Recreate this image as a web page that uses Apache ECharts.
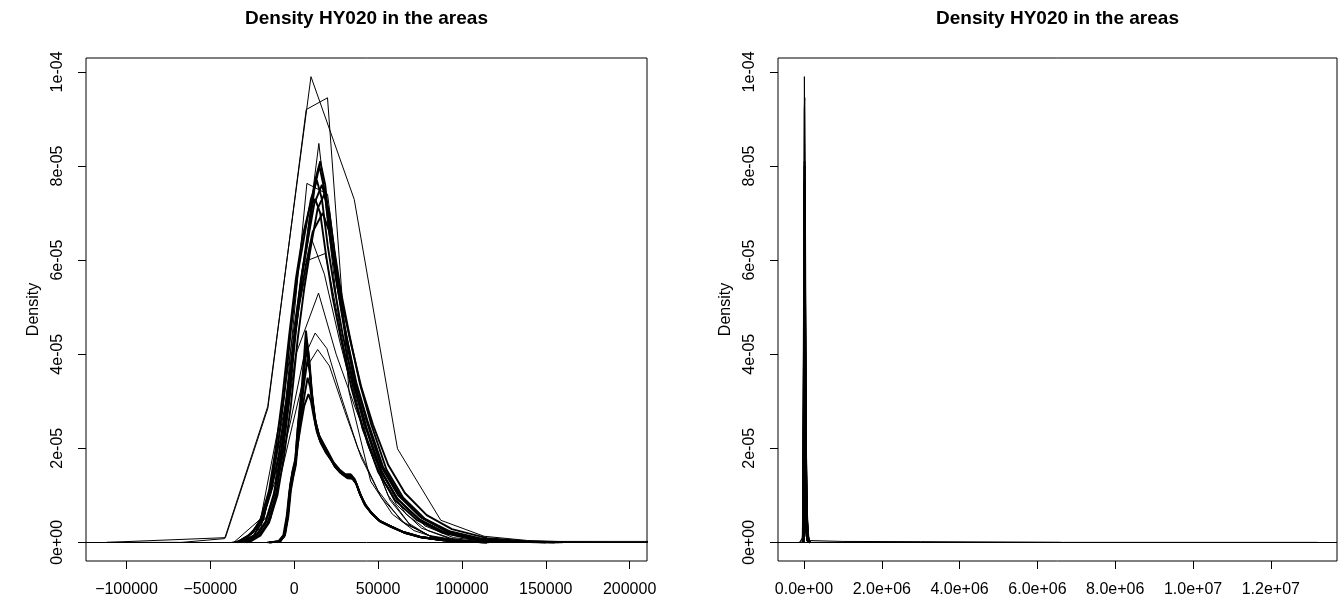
<!DOCTYPE html>
<html><head><meta charset="utf-8">
<script src="https://cdn.jsdelivr.net/npm/echarts@6/dist/echarts.min.js"></script>
<style>html,body{margin:0;padding:0;background:#fff}#chart{width:1338px;height:603px}</style>
</head><body><div id="chart"></div>
<script>
// ---------- texts / ticks ----------
const titleText = 'Density HY020 in the areas';
const yAxisName = 'Density';
const yTicks = [0, 2e-5, 4e-5, 6e-5, 8e-5, 1e-4];
const yTickLabels = ['0e+00', '2e-05', '4e-05', '6e-05', '8e-05', '1e-04'];
const xTicksLeft = [-100000, -50000, 0, 50000, 100000, 150000, 200000];
const xTickLabelsLeft = ['\u2212100000', '\u221250000', '0', '50000', '100000', '150000', '200000'];
const xTicksRight = [0, 2e6, 4e6, 6e6, 8e6, 1e7, 1.2e7];
const xTickLabelsRight = ['0.0e+00', '2.0e+06', '4.0e+06', '6.0e+06', '8.0e+06', '1.0e+07', '1.2e+07'];
const xRangeLeft = [-124150, 210375];
const xRangeRight = [-668000, 13700000];
const yRange = [-3.96e-6, 1.0296e-4];

// ---------- density curves [x, density] ----------
// main wide bundle
const curveA0 = [[-30000,0],[-22000,0.18e-5],[-17000,0.45e-5],[-12000,1.05e-5],[-8000,1.9e-5],[-4000,3.0e-5],[0,4.4e-5],[4000,5.6e-5],[8000,6.4e-5],[12000,7.5e-5],[15000,8.0e-5],[18000,7.5e-5],[21000,6.55e-5],[25000,5.6e-5],[30000,4.6e-5],[36000,3.5e-5],[43000,2.6e-5],[52000,1.6e-5],[62000,1.0e-5],[75000,0.55e-5],[90000,0.25e-5],[110000,0.08e-5],[135000,0.01e-5],[155000,0]];
const curveA1 = [[-32000,0],[-24000,0.15e-5],[-19000,0.45e-5],[-14000,1.1e-5],[-10000,2.0e-5],[-6000,3.1e-5],[-2000,4.5e-5],[2000,5.7e-5],[6000,6.5e-5],[10000,7.3e-5],[13500,7.7e-5],[16500,7.3e-5],[20000,6.3e-5],[24000,5.4e-5],[29000,4.4e-5],[35000,3.4e-5],[42000,2.5e-5],[51000,1.55e-5],[61000,0.95e-5],[74000,0.5e-5],[89000,0.22e-5],[108000,0.07e-5],[130000,0.01e-5],[150000,0]];
const curveA2 = [[-27000,0],[-20000,0.15e-5],[-15000,0.42e-5],[-10000,1.0e-5],[-6000,1.85e-5],[-2000,2.9e-5],[2000,4.3e-5],[6000,5.4e-5],[10000,6.3e-5],[14000,7.1e-5],[18000,7.4e-5],[21000,7.0e-5],[24000,6.2e-5],[28000,5.3e-5],[33000,4.4e-5],[39000,3.4e-5],[46000,2.5e-5],[55000,1.55e-5],[65000,0.95e-5],[78000,0.5e-5],[93000,0.23e-5],[113000,0.07e-5],[138000,0.01e-5],[158000,0]];
const curveA3 = [[-28000,0],[-21000,0.15e-5],[-16000,0.4e-5],[-11000,1.0e-5],[-7000,1.85e-5],[-3000,3.0e-5],[1000,4.5e-5],[5000,5.8e-5],[9000,6.8e-5],[12500,7.7e-5],[15500,8.1e-5],[18500,7.6e-5],[21500,6.6e-5],[25000,5.6e-5],[30000,4.5e-5],[36000,3.4e-5],[43000,2.45e-5],[52000,1.5e-5],[62000,0.9e-5],[75000,0.48e-5],[90000,0.2e-5],[110000,0.06e-5],[135000,0.01e-5],[155000,0]];
const curveA4 = [[-34000,0],[-25000,0.2e-5],[-19000,0.5e-5],[-14000,1.05e-5],[-9000,1.9e-5],[-5000,2.9e-5],[-1000,4.1e-5],[3000,5.1e-5],[7000,5.9e-5],[11000,6.6e-5],[17000,7.0e-5],[21000,6.6e-5],[25000,5.8e-5],[29000,5.0e-5],[34000,4.2e-5],[40000,3.3e-5],[47000,2.5e-5],[56000,1.65e-5],[66000,1.05e-5],[79000,0.58e-5],[94000,0.28e-5],[115000,0.09e-5],[140000,0.02e-5],[160000,0]];
const curveA5 = [[-33000,0],[-25000,0.2e-5],[-20000,0.5e-5],[-15000,1.1e-5],[-11000,2.0e-5],[-7000,3.1e-5],[-3000,4.4e-5],[1000,5.6e-5],[5000,6.5e-5],[9000,7.1e-5],[12500,7.3e-5],[15500,7.0e-5],[19000,6.1e-5],[23000,5.2e-5],[28000,4.3e-5],[34000,3.3e-5],[41000,2.4e-5],[50000,1.5e-5],[60000,0.9e-5],[73000,0.48e-5],[88000,0.21e-5],[107000,0.06e-5],[130000,0.01e-5],[150000,0]];
const curveA6 = [[-29000,0],[-22000,0.16e-5],[-17000,0.42e-5],[-12000,1.0e-5],[-8000,1.8e-5],[-4000,2.9e-5],[0,4.3e-5],[4000,5.5e-5],[8000,6.4e-5],[12000,7.2e-5],[16500,7.6e-5],[19500,7.2e-5],[22500,6.3e-5],[26000,5.4e-5],[31000,4.4e-5],[37000,3.4e-5],[44000,2.55e-5],[53000,1.6e-5],[63000,1.0e-5],[76000,0.52e-5],[91000,0.24e-5],[111000,0.07e-5],[136000,0.01e-5],[156000,0]];
// narrow bundle
const curveB0 = [[-15000,0],[-9000,0.02e-5],[-6000,0.15e-5],[-4000,0.6e-5],[-2500,1.2e-5],[-1000,1.5e-5],[500,1.7e-5],[2000,2.4e-5],[4000,3.0e-5],[6000,3.7e-5],[7500,4.3e-5],[9000,3.9e-5],[10500,3.2e-5],[12500,2.6e-5],[15000,2.25e-5],[18000,2.05e-5],[21000,1.85e-5],[24000,1.65e-5],[27500,1.5e-5],[31000,1.42e-5],[34000,1.4e-5],[36500,1.3e-5],[39000,1.05e-5],[42000,0.8e-5],[46000,0.62e-5],[51000,0.45e-5],[57000,0.35e-5],[65000,0.22e-5],[75000,0.12e-5],[88000,0.05e-5],[100000,0.015e-5],[115000,0]];
const curveB1 = [[-14000,0],[-8000,0.03e-5],[-5500,0.2e-5],[-3500,0.7e-5],[-2000,1.3e-5],[-800,1.55e-5],[800,1.8e-5],[2500,2.6e-5],[4500,3.3e-5],[6000,4.0e-5],[7000,4.5e-5],[8500,4.0e-5],[10000,3.3e-5],[12000,2.7e-5],[14500,2.3e-5],[17500,2.1e-5],[20500,1.9e-5],[23500,1.7e-5],[27000,1.55e-5],[30500,1.45e-5],[33500,1.45e-5],[36000,1.35e-5],[38500,1.1e-5],[41500,0.85e-5],[45500,0.65e-5],[50500,0.47e-5],[56500,0.36e-5],[64500,0.23e-5],[74500,0.12e-5],[87000,0.05e-5],[99000,0.015e-5],[114000,0]];
const curveB2 = [[-15000,0],[-9000,0.02e-5],[-6000,0.12e-5],[-4000,0.5e-5],[-2500,1.05e-5],[-1000,1.35e-5],[500,1.6e-5],[2000,2.2e-5],[4000,2.8e-5],[6000,3.4e-5],[8000,3.9e-5],[9500,3.6e-5],[11000,3.0e-5],[13000,2.5e-5],[15500,2.2e-5],[18500,2.0e-5],[21500,1.8e-5],[24500,1.6e-5],[28000,1.47e-5],[31500,1.4e-5],[34500,1.38e-5],[37000,1.25e-5],[39500,1.0e-5],[42500,0.78e-5],[46500,0.6e-5],[51500,0.44e-5],[57500,0.34e-5],[65500,0.21e-5],[75500,0.11e-5],[88500,0.05e-5],[100500,0.015e-5],[115000,0]];
const curveB3 = [[-15000,0],[-8500,0.02e-5],[-5500,0.15e-5],[-3500,0.55e-5],[-2000,1.1e-5],[-500,1.4e-5],[1000,1.65e-5],[2500,2.2e-5],[4500,2.75e-5],[6500,3.2e-5],[8000,3.5e-5],[9500,3.3e-5],[11000,2.9e-5],[13000,2.45e-5],[15500,2.15e-5],[18500,1.95e-5],[21500,1.78e-5],[24500,1.6e-5],[28000,1.47e-5],[31500,1.38e-5],[34500,1.36e-5],[37000,1.25e-5],[39500,1.0e-5],[42500,0.78e-5],[46500,0.6e-5],[51500,0.44e-5],[57500,0.33e-5],[65500,0.21e-5],[75500,0.11e-5],[88500,0.05e-5],[100500,0.015e-5],[115000,0]];
const curveB4 = [[-16000,0],[-9500,0.02e-5],[-6500,0.15e-5],[-4500,0.55e-5],[-3000,1.05e-5],[-1500,1.35e-5],[0,1.55e-5],[2000,2.05e-5],[4000,2.5e-5],[6000,2.9e-5],[8500,3.15e-5],[10000,3.0e-5],[11500,2.7e-5],[13500,2.35e-5],[16000,2.1e-5],[19000,1.9e-5],[22000,1.75e-5],[25000,1.6e-5],[28500,1.45e-5],[32000,1.36e-5],[35000,1.35e-5],[37500,1.22e-5],[40000,0.98e-5],[43000,0.77e-5],[47000,0.59e-5],[52000,0.43e-5],[58000,0.33e-5],[66000,0.2e-5],[76000,0.1e-5],[89000,0.045e-5],[101000,0.012e-5],[116000,0]];
const curveB5 = [[-14500,0],[-8500,0.02e-5],[-5500,0.18e-5],[-3500,0.65e-5],[-2000,1.25e-5],[-500,1.55e-5],[1000,1.75e-5],[2500,2.45e-5],[4500,3.1e-5],[6000,3.7e-5],[7500,4.1e-5],[9000,3.75e-5],[10500,3.1e-5],[12500,2.55e-5],[15000,2.2e-5],[18000,2.0e-5],[21000,1.82e-5],[24000,1.62e-5],[27500,1.48e-5],[31000,1.43e-5],[34000,1.43e-5],[36500,1.3e-5],[39000,1.05e-5],[42000,0.82e-5],[46000,0.63e-5],[51000,0.46e-5],[57000,0.35e-5],[65000,0.22e-5],[75000,0.12e-5],[88000,0.05e-5],[100000,0.015e-5],[115000,0]];
// coarse curves of small areas
const curveTall = [[-111760,0],[-67000,0],[-41500,0.08e-5],[-15800,2.89e-5],[10000,9.9e-5],[35800,7.29e-5],[61600,1.99e-5],[87400,0.47e-5],[113200,0.13e-5],[139000,0.04e-5],[164800,0.01e-5],[190600,0],[13200000,0]];
const curveSecond = [[-111760,0],[-41000,0.1e-5],[-15700,2.85e-5],[7160,9.2e-5],[19860,9.45e-5],[32700,3.2e-5],[45600,1.3e-5],[58500,0.6e-5],[71400,0.25e-5],[84300,0.1e-5],[97200,0.04e-5],[123000,0.02e-5],[1000000,0.02e-5],[3000000,0.015e-5],[6600000,0]];
const curveP84 = [[-37300,0],[-24300,0.1e-5],[-11300,1.3e-5],[1700,4.8e-5],[14700,8.48e-5],[27700,4.4e-5],[40700,2.4e-5],[53700,1.3e-5],[66700,0.6e-5],[79700,0.25e-5],[92700,0.08e-5],[105700,0.02e-5],[118700,0]];
const curveFlat76 = [[-30000,0],[-17500,0.6e-5],[-5000,3.0e-5],[7570,7.63e-5],[19900,7.4e-5],[32300,3.9e-5],[44700,2.0e-5],[57100,0.9e-5],[69500,0.35e-5],[81900,0.12e-5],[94300,0.03e-5],[106700,0]];
const curveTri53 = [[-35000,0],[-20000,0.3e-5],[-6000,2.2e-5],[1000,4.0e-5],[14500,5.3e-5],[25000,4.0e-5],[36000,2.9e-5],[48000,1.8e-5],[62000,0.9e-5],[78000,0.35e-5],[95000,0.1e-5],[115000,0.02e-5],[135000,0]];
const curvePk44 = [[-30000,0],[-15000,0.6e-5],[-2000,2.6e-5],[5500,3.9e-5],[12500,4.45e-5],[19500,4.12e-5],[28000,3.1e-5],[38000,2.0e-5],[50000,1.1e-5],[64000,0.45e-5],[80000,0.15e-5],[100000,0.03e-5],[120000,0]];
const curvePk41 = [[-28000,0],[-14000,0.5e-5],[-1000,2.5e-5],[7000,3.7e-5],[14000,4.1e-5],[21000,3.75e-5],[30000,2.8e-5],[40000,1.8e-5],[52000,0.95e-5],[66000,0.4e-5],[82000,0.12e-5],[102000,0.02e-5],[122000,0]];
const curvePk64 = [[-32000,0],[-18000,0.5e-5],[-5000,2.8e-5],[3000,5.0e-5],[10550,6.43e-5],[18000,5.7e-5],[27000,4.3e-5],[37000,2.9e-5],[48000,1.7e-5],[61000,0.8e-5],[76000,0.3e-5],[94000,0.08e-5],[115000,0]];
const curveFlat60 = [[-36000,0],[-20000,0.5e-5],[-7000,2.9e-5],[5570,5.96e-5],[18500,6.14e-5],[31000,3.9e-5],[43500,2.1e-5],[56000,1.0e-5],[68500,0.4e-5],[81000,0.13e-5],[93500,0.03e-5],[106000,0]];

const bundleCurves = [curveA0, curveA1, curveA2, curveA3, curveA4, curveA5, curveA6,
                      curveB0, curveB1, curveB2, curveB3, curveB4, curveB5];
const coarseCurves = [curveTall, curveSecond, curveP84, curveFlat76, curveTri53, curvePk44, curvePk41, curvePk64, curveFlat60];

// ---------- build ----------
const FONT = '"Liberation Sans", Arial, Helvetica, sans-serif';
function labelFor(ticks, labels) {
  return function (v) {
    for (let i = 0; i < ticks.length; i++) {
      if (Math.abs(ticks[i] - v) <= Math.abs(ticks[ticks.length - 1] - ticks[0]) * 1e-9) return labels[i];
    }
    return '';
  };
}
const grids = [
  { left: 86, top: 58, width: 561, height: 503 },
  { left: 778, top: 58, width: 559, height: 503 }
];
const xCfg = [
  { range: xRangeLeft, ticks: xTicksLeft, labels: xTickLabelsLeft },
  { range: xRangeRight, ticks: xTicksRight, labels: xTickLabelsRight }
];
const option = {
  animation: false,
  backgroundColor: '#fff',
  grid: grids.map(g => Object.assign({ show: true, borderColor: '#000', borderWidth: 1, backgroundColor: 'transparent', containLabel: false }, g)),
  graphic: grids.map(g => ({
    type: 'text', x: g.left + g.width / 2, y: 19, silent: true,
    style: { text: titleText, align: 'center', verticalAlign: 'middle', fill: '#000', font: 'bold 19px ' + FONT }
  })),
  xAxis: xCfg.map((c, i) => ({
    type: 'value', gridIndex: i, min: c.range[0], max: c.range[1], position: 'bottom',
    axisLine: { show: false, onZero: false }, splitLine: { show: false },
    axisTick: { show: true, inside: false, length: 8, customValues: c.ticks, lineStyle: { color: '#000', width: 1 } },
    axisLabel: { show: true, customValues: c.ticks, formatter: labelFor(c.ticks, c.labels), color: '#000', fontSize: 16, fontFamily: FONT, margin: 21, hideOverlap: false }
  })),
  yAxis: [0, 1].map(i => ({
    type: 'value', gridIndex: i, min: yRange[0], max: yRange[1], position: 'left',
    name: yAxisName, nameLocation: 'middle', nameRotate: 90, nameGap: 44,
    nameTextStyle: { color: '#000', fontSize: 16, fontFamily: FONT },
    axisLine: { show: false, onZero: false }, splitLine: { show: false },
    axisTick: { show: true, inside: false, length: 8, customValues: yTicks, lineStyle: { color: '#000', width: 1 } },
    axisLabel: { show: true, rotate: 90, customValues: yTicks, formatter: labelFor(yTicks, yTickLabels), color: '#000', fontSize: 16, fontFamily: FONT, margin: 20, hideOverlap: false }
  })),
  series: []
};
[0, 1].forEach(gi => {
  bundleCurves.concat(coarseCurves).forEach((curve, ci) => {
    const s = {
      type: 'line', xAxisIndex: gi, yAxisIndex: gi, data: curve,
      symbol: 'none', showSymbol: false, silent: true, animation: false, clip: true,
      lineStyle: { color: '#000', width: ci < bundleCurves.length ? 1.9 : 1 },
      emphasis: { disabled: true }
    };
    if (ci === 0) {
      s.markLine = { silent: true, symbol: 'none', animation: false, label: { show: false },
        lineStyle: { color: '#000', width: 1, type: 'solid' }, emphasis: { disabled: true },
        data: [{ yAxis: 0 }] };
    }
    option.series.push(s);
  });
});
const chart = echarts.init(document.getElementById('chart'), null, { renderer: 'canvas' });
chart.setOption(option);
</script></body></html>
